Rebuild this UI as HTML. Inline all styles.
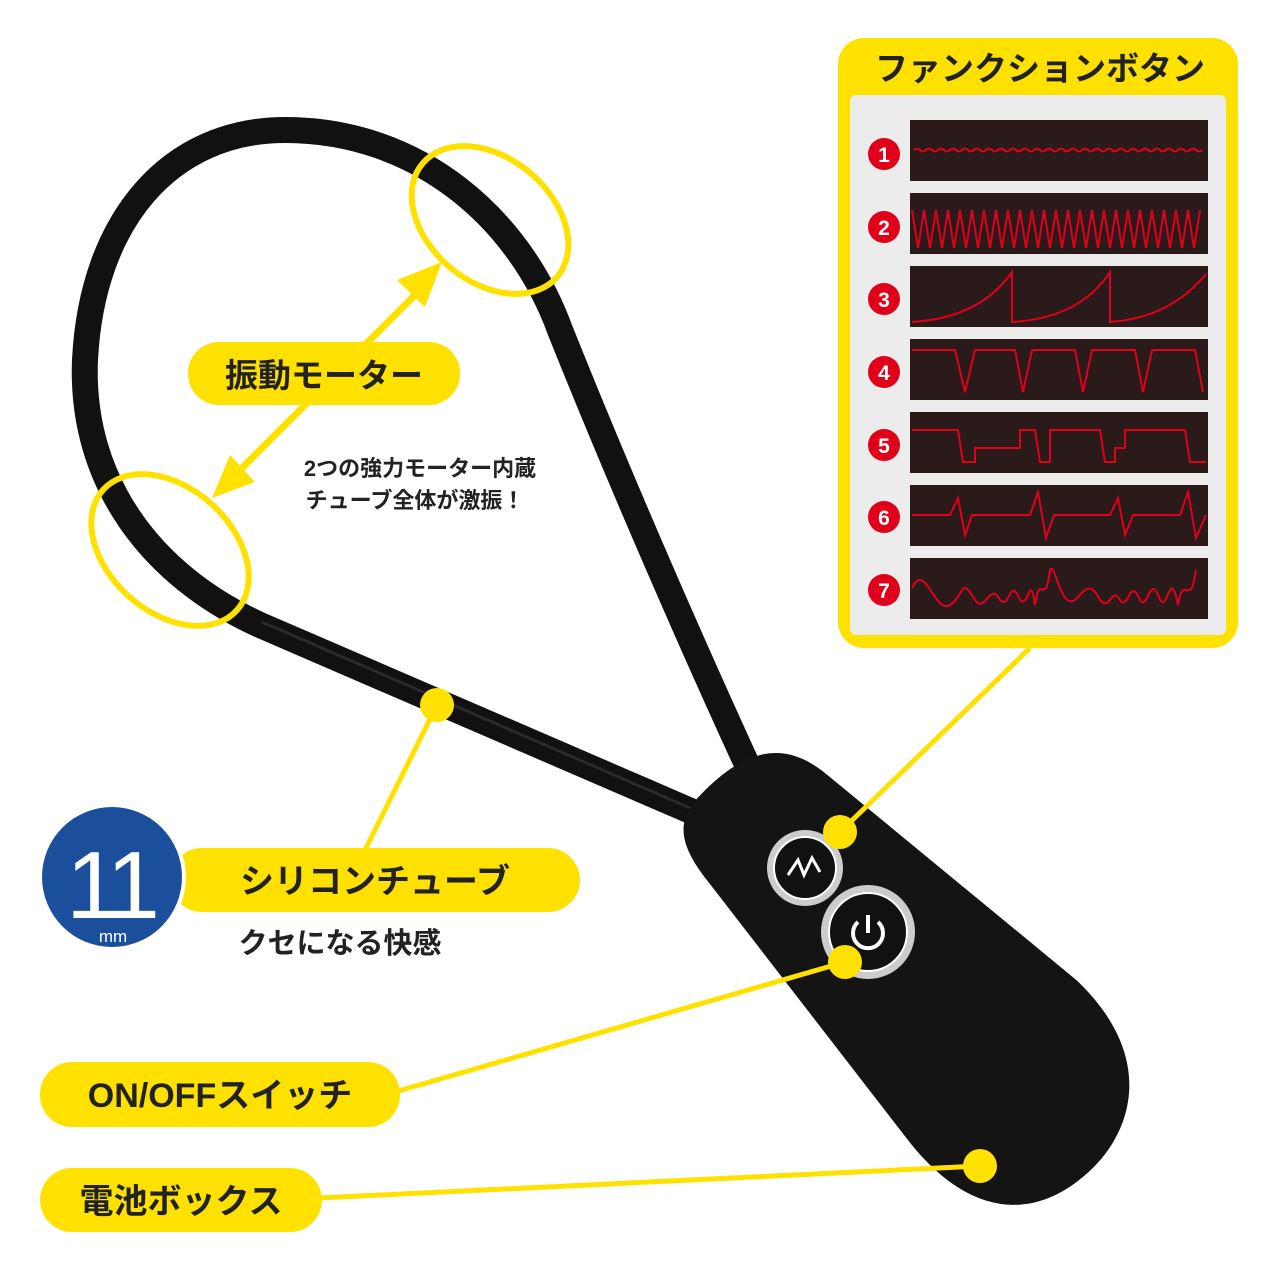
<!DOCTYPE html>
<html><head><meta charset="utf-8"><style>
html,body{margin:0;padding:0;background:#fff}
svg{display:block}
text{font-family:"Liberation Sans","Noto Sans CJK JP",sans-serif;font-weight:bold}
</style></head><body>
<svg width="1280" height="1280" viewBox="0 0 1280 1280" xmlns="http://www.w3.org/2000/svg">
<rect width="1280" height="1280" fill="#fff"/>
<path d="M700,815 L260,625 C150,575 80,480 85,360 C92,220 170,130 285,130 C420,130 520,220 560,330 C620,480 690,640 745,760" fill="none" stroke="#111" stroke-width="26" stroke-linecap="round"/>
<path d="M690,808 L262,622" fill="none" stroke="#444" stroke-width="3" opacity=".5"/>
<g transform="translate(915,965) rotate(-42)">
<path d="M-45,-270 C25,-275 55,-250 62,-200 L110,120 C118,230 50,270 -10,270 C-95,270 -130,210 -122,120 L-98,-200 C-95,-250 -80,-268 -45,-270 Z" fill="#141414"/>
</g>
<circle cx="805" cy="868" r="38" fill="#ccc"/><circle cx="805" cy="868" r="31" fill="#111" stroke="#fff" stroke-width="2"/>
<polyline points="788,875 798,860 804,875 812,858 820,872" fill="none" stroke="#fff" stroke-width="3"/>
<circle cx="868" cy="932" r="47" fill="#ccc"/><circle cx="868" cy="932" r="39" fill="#111" stroke="#fff" stroke-width="2"/>
<path d="M858,922 A15,15 0 1 0 878,922" fill="none" stroke="#fff" stroke-width="4"/><line x1="868" y1="915" x2="868" y2="933" stroke="#fff" stroke-width="4"/>
<ellipse cx="490" cy="220" rx="88" ry="62" transform="rotate(40 490 220)" fill="none" stroke="#ffe100" stroke-width="6"/>
<ellipse cx="170" cy="550" rx="90" ry="62" transform="rotate(42 170 550)" fill="none" stroke="#ffe100" stroke-width="6"/>
<line x1="425" y1="285" x2="232" y2="478" stroke="#ffe100" stroke-width="7"/>
<polygon points="442,262 397,280 425,307" fill="#ffe100"/>
<polygon points="212,498 230,455 255,482" fill="#ffe100"/>
<rect x="188" y="342" width="272" height="63" rx="31" fill="#ffe100"/>
<text x="324" y="387" font-size="33" text-anchor="middle" fill="#222">振動モーター</text>
<text x="420" y="476" font-size="22" text-anchor="middle" fill="#222">2つの強力モーター内蔵</text>
<text x="415" y="508" font-size="22" text-anchor="middle" fill="#222">チューブ全体が激振！</text>
<rect x="838" y="38" width="400" height="610" rx="26" fill="#ffe100"/>
<rect x="850" y="95" width="376" height="540" rx="6" fill="#ececec"/>
<text x="1040" y="80" font-size="33" text-anchor="middle" fill="#222">ファンクションボタン</text>
<g fill="#2a1a1a">
<rect x="910" y="120" width="298" height="61"/><rect x="910" y="193" width="298" height="61"/><rect x="910" y="266" width="298" height="61"/><rect x="910" y="339" width="298" height="61"/><rect x="910" y="412" width="298" height="61"/><rect x="910" y="485" width="298" height="61"/><rect x="910" y="558" width="298" height="61"/>
</g>
<g fill="#e0001a">
<circle cx="884" cy="154" r="16"/><circle cx="884" cy="227" r="16"/><circle cx="884" cy="299" r="16"/><circle cx="884" cy="372" r="16"/><circle cx="884" cy="445" r="16"/><circle cx="884" cy="517" r="16"/><circle cx="884" cy="590" r="16"/>
</g>
<g font-size="21" fill="#fff" text-anchor="middle">
<text x="884" y="162">1</text><text x="884" y="235">2</text><text x="884" y="307">3</text><text x="884" y="380">4</text><text x="884" y="453">5</text><text x="884" y="525">6</text><text x="884" y="598">7</text>
</g>
<g fill="none" stroke="#e0001a" stroke-width="2">
<path d="M914,150 q3,-3 6,0 t6,0 t6,0 t6,0 t6,0 t6,0 t6,0 t6,0 t6,0 t6,0 t6,0 t6,0 t6,0 t6,0 t6,0 t6,0 t6,0 t6,0 t6,0 t6,0 t6,0 t6,0 t6,0 t6,0 t6,0 t6,0 t6,0 t6,0 t6,0 t6,0 t6,0 t6,0 t6,0 t6,0 t6,0 t6,0 t6,0 t6,0 t6,0 t6,0 t6,0 t6,0 t6,0 t6,0 t6,0 t6,0 t6,0 t6,0"/>
<path d="M912,210 l6,38 l6,-38 l6,38 l6,-38 l6,38 l6,-38 l6,38 l6,-38 l6,38 l6,-38 l6,38 l6,-38 l6,38 l6,-38 l6,38 l6,-38 l6,38 l6,-38 l6,38 l6,-38 l6,38 l6,-38 l6,38 l6,-38 l6,38 l6,-38 l6,38 l6,-38 l6,38 l6,-38 l6,38 l6,-38 l6,38 l6,-38 l6,38 l6,-38 l6,38 l6,-38 l6,38 l6,-38 l6,38 l6,-38 l6,38 l6,-38 l6,38 l6,-38 l6,38 l6,-38"/>
<path d="M912,322 Q980,318 1012,272 L1012,322 Q1080,318 1110,272 L1110,322 Q1170,318 1206,274"/>
<path d="M912,350 L955,350 L965,392 L975,350 L1015,350 L1023,392 L1032,350 L1075,350 L1083,392 L1092,350 L1135,350 L1143,392 L1152,350 L1195,350 L1203,392"/>
<path d="M912,430 L958,430 L963,462 L975,462 L975,448 L1020,448 L1020,430 L1035,430 L1040,462 L1050,462 L1050,430 L1100,430 L1105,462 L1115,462 L1115,448 L1125,448 L1125,430 L1185,430 L1190,462 L1206,462"/>
<path d="M912,515 L950,515 L958,498 L965,535 L972,515 L1030,515 L1038,492 L1046,538 L1054,515 L1110,515 L1118,498 L1125,535 L1133,515 L1180,515 L1188,492 L1196,538 L1206,515"/>
<path d="M912,588 C925,560 935,615 950,605 C965,595 960,575 975,600 C985,615 990,580 1000,600 C1010,610 1010,575 1020,600 C1028,610 1030,570 1035,605 C1040,570 1045,610 1050,570 C1055,560 1060,610 1075,600 C1085,590 1090,580 1100,600 C1110,612 1112,585 1120,600 C1128,612 1130,575 1140,600 C1148,612 1150,570 1160,600 C1168,612 1170,565 1178,605 C1184,570 1190,612 1196,570"/>
</g>
<line x1="1030" y1="648" x2="840" y2="832" stroke="#ffe100" stroke-width="5"/>
<circle cx="840" cy="832" r="17" fill="#ffe100"/>
<line x1="437" y1="705" x2="365" y2="850" stroke="#ffe100" stroke-width="5"/>
<circle cx="437" cy="705" r="17" fill="#ffe100"/>
<line x1="845" y1="962" x2="395" y2="1092" stroke="#ffe100" stroke-width="5"/>
<circle cx="845" cy="962" r="17" fill="#ffe100"/>
<line x1="980" y1="1166" x2="318" y2="1198" stroke="#ffe100" stroke-width="5"/>
<circle cx="980" cy="1166" r="17" fill="#ffe100"/>
<rect x="170" y="848" width="410" height="64" rx="32" fill="#ffe100"/>
<text x="375" y="893" font-size="34" text-anchor="middle" fill="#222">シリコンチューブ</text>
<text x="340" y="953" font-size="29" text-anchor="middle" fill="#222">クセになる快感</text>
<circle cx="112" cy="877" r="74" fill="#fff"/>
<circle cx="112" cy="877" r="70" fill="#1b4f9c"/>
<text x="110" y="918" font-size="96" text-anchor="middle" fill="#fff" style="font-weight:normal" letter-spacing="-6">11</text>
<text x="113" y="942" font-size="17" text-anchor="middle" fill="#fff" style="font-weight:normal">mm</text>
<rect x="40" y="1062" width="360" height="65" rx="32" fill="#ffe100"/>
<text x="220" y="1107" font-size="34" text-anchor="middle" fill="#222">ON/OFFスイッチ</text>
<rect x="40" y="1168" width="282" height="64" rx="32" fill="#ffe100"/>
<text x="181" y="1213" font-size="34" text-anchor="middle" fill="#222">電池ボックス</text>
</svg>
</body></html>
